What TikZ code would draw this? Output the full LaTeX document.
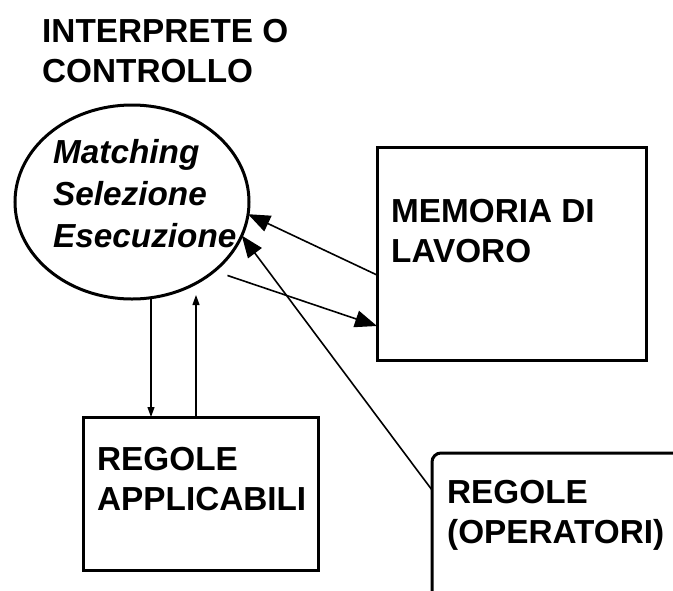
\documentclass[tikz,border=0pt]{standalone}
\usepackage{fontspec}
\setmainfont{Liberation Sans}[BoldFont={Liberation Sans Bold},
  BoldItalicFont={Liberation Sans Bold Italic}]
\usetikzlibrary{arrows.meta,positioning,shapes.geometric}

\begin{document}
\begin{tikzpicture}[x=1pt, y=-1pt,
    box/.style={draw, line width=3pt, anchor=north west,
                inner sep=0pt, outer sep=0pt},
    rbox/.style={box, rounded corners=9pt},
    oval/.style={draw, ellipse, line width=3pt, inner sep=0pt, outer sep=0pt},
    lbl/.style={anchor=base west, inner sep=0pt, align=left,
                font=\fontsize{33.3}{40}\selectfont\bfseries},
    ilbl/.style={lbl, font=\fontsize{33.3}{42}\selectfont\bfseries\itshape},
    bigarr/.style={-{Triangle[length=22pt,width=17pt]}, line width=1.6pt},
    smallarr/.style={-{Triangle[length=10pt,width=7pt]}, line width=1.2pt}
  ]
  \useasboundingbox (0,0) rectangle (673,590);

  % interprete
  \node[oval, minimum width=234pt, minimum height=194pt] (ctl) at (132,202) {};
  \node[lbl] (ctltitle) at (42,82) {INTERPRETE O\\CONTROLLO};
  \node[ilbl] (ctltext) at (53,247) {Matching\\Selezione\\Esecuzione};

  % memoria e regole
  \node[box, minimum width=269pt, minimum height=213pt] (mem) at (377,147) {};
  \node[lbl] (memtext) at (391,262) {MEMORIA DI\\LAVORO};
  \node[box, minimum width=235pt, minimum height=153pt] (app) at (83,417) {};
  \node[lbl] (apptext) at (97,510) {REGOLE\\APPLICABILI};
  \begin{scope}
    \clip (0,0) rectangle (673,590);
    \node[rbox, minimum width=300pt, minimum height=220pt] (ops) at (432,453) {};
  \end{scope}
  \node[lbl] (opstext) at (447,543) {REGOLE\\(OPERATORI)};

  % frecce
  \draw[bigarr] ([yshift=-128pt]mem.north west) -- (ctl.-6);
  \draw[bigarr, shorten <=14pt] (ctl.-40) -- ([yshift=-179pt]mem.north west);
  \draw[bigarr] ([yshift=-37pt]ops.north west) -- (ctl.-17);
  \draw[smallarr] ([xshift=68pt]app.north west |- ctl.south) -- ([xshift=68pt]app.north west);
  \draw[smallarr, shorten >=-4pt] ([xshift=113pt]app.north west) -- ([xshift=113pt]app.north west |- ctl.south);
\end{tikzpicture}
\end{document}
